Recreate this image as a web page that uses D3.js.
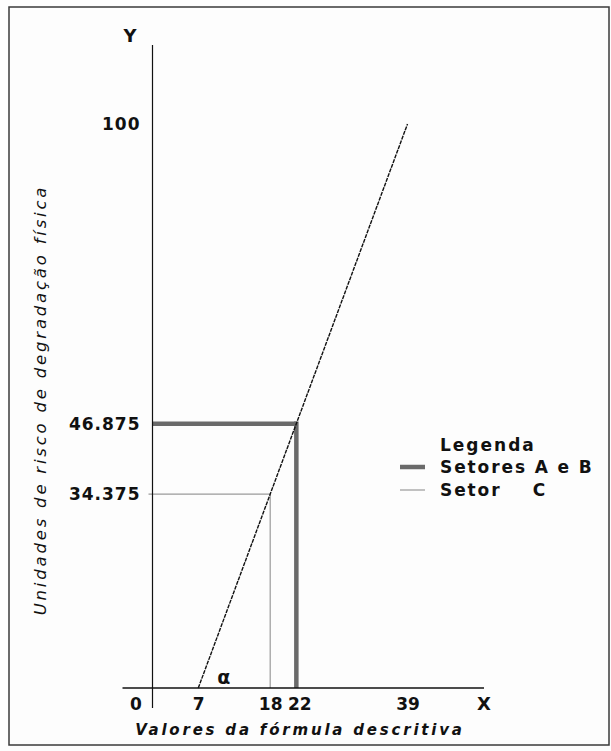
<!DOCTYPE html>
<html>
<head>
<meta charset="utf-8">
<script src="https://cdn.jsdelivr.net/npm/d3@7"></script>
<style>
  html, body { margin: 0; padding: 0; background: #fff; }
  svg { display: block; }
  text { font-family: "DejaVu Sans", sans-serif; fill: #111; }
</style>
</head>
<body>
<svg id="chart" width="611" height="751"></svg>
<script>
// ---- data ----
const xTicks = [0, 7, 18, 22, 39];
const yTicks = [34.375, 46.875, 100];
const lineX = [7, 39];
const lineY = [0, 100];
const sectorNames = ["Setores A e B", "Setor    C"];
const sectorX = [22, 18];
const sectorY = [46.875, 34.375];
const xTitle = "Valores da fórmula descritiva";
const yTitle = "Unidades de risco de degradação física";
const legendTitle = "Legenda";

// ---- layout ----
const svg = d3.select("#chart");
const x = d3.scaleLinear().domain([0, 39]).range([152.5, 407.5]);
const y = d3.scaleLinear().domain([0, 100]).range([688, 124]);

svg.append("rect").attr("x", 0).attr("y", 0).attr("width", 611).attr("height", 751).attr("fill", "#fdfdfd");
svg.append("rect").attr("x", 9).attr("y", 7).attr("width", 600).attr("height", 738)
  .attr("fill", "none").attr("stroke", "#3a3a3a").attr("stroke-width", 1.5);

const sectorStyle = [{ w: 4.5, c: "#6a6a6a" }, { w: 1.2, c: "#9a9a9a" }];

// sector reference lines
sectorNames.forEach((n, i) => {
  const st = sectorStyle[i];
  const g = svg.append("g");
  g.append("line")
    .attr("x1", i === 0 ? x(0) : x(0) - 4).attr("x2", x(sectorX[i]))
    .attr("y1", y(sectorY[i])).attr("y2", y(sectorY[i]))
    .attr("stroke", st.c).attr("stroke-width", st.w);
  g.append("line")
    .attr("x1", x(sectorX[i])).attr("x2", x(sectorX[i]))
    .attr("y1", y(sectorY[i]) - (i === 0 ? st.w / 2 : 0)).attr("y2", y(0))
    .attr("stroke", st.c).attr("stroke-width", st.w);
});

// axis lines
svg.append("line").attr("x1", x(0)).attr("x2", x(0)).attr("y1", 45).attr("y2", y(0) + 20)
  .attr("stroke", "#111").attr("stroke-width", 1.2);
svg.append("line").attr("x1", x(0) - 30).attr("x2", 484).attr("y1", y(0)).attr("y2", y(0))
  .attr("stroke", "#111").attr("stroke-width", 1.6);

// main line
const pts = lineX.map((v, i) => [v, lineY[i]]);
svg.append("path")
  .attr("d", d3.line().x(d => x(d[0])).y(d => y(d[1]))(pts))
  .attr("fill", "none").attr("stroke", "#111").attr("stroke-width", 1.4)
  .attr("stroke-dasharray", "4,1");

// x axis ticks
const xAxis = svg.append("g").attr("transform", `translate(0,${y(0)})`)
  .call(d3.axisBottom(x).tickValues(xTicks).tickSize(0).tickPadding(10).tickFormat(d3.format("d")));
xAxis.select(".domain").remove();
const xShift = { 0: -17, 22: 3 };
xAxis.selectAll(".tick text")
  .attr("font-family", "DejaVu Sans").attr("font-weight", "bold").attr("font-size", 17)
  .attr("fill", "#111")
  .attr("transform", d => `translate(${xShift[d] || 0},0)`);

// y axis ticks
const yAxis = svg.append("g").attr("transform", `translate(${x(0)},0)`)
  .call(d3.axisLeft(y).tickValues(yTicks).tickSize(0).tickPadding(12).tickFormat(d => String(d)));
yAxis.select(".domain").remove();
yAxis.selectAll("text")
  .attr("font-family", "DejaVu Sans").attr("font-weight", "bold").attr("font-size", 17)
  .attr("fill", "#111").attr("letter-spacing", 1);

// axis letters
svg.append("text").attr("x", 130).attr("y", 42).attr("text-anchor", "middle")
  .attr("font-weight", "bold").attr("font-size", 18).text("Y");
svg.append("text").attr("x", 484).attr("y", 710).attr("text-anchor", "middle")
  .attr("font-weight", "bold").attr("font-size", 18).text("X");
svg.append("text").attr("x", x(7) + 19).attr("y", 684)
  .attr("font-weight", "bold").attr("font-size", 19).text("α");

// axis titles
svg.append("text").attr("x", 300).attr("y", 735).attr("text-anchor", "middle")
  .attr("font-style", "italic").attr("font-size", 15).attr("letter-spacing", 2.8)
  .attr("font-weight", "bold").attr("fill", "#222").text(xTitle);
svg.append("text").attr("transform", "translate(46,400) rotate(-90)").attr("text-anchor", "middle")
  .attr("font-style", "italic").attr("font-size", 16.5).attr("letter-spacing", 2.8)
  .attr("fill", "#222").text(yTitle);

// legend
const lg = svg.append("g");
lg.append("text").attr("x", 440).attr("y", 451).attr("font-weight", "bold").attr("font-size", 17)
  .attr("letter-spacing", 2).text(legendTitle);
sectorNames.forEach((n, i) => {
  const yy = 473 + i * 23;
  lg.append("line").attr("x1", 400).attr("x2", 425).attr("y1", yy - 6).attr("y2", yy - 6)
    .attr("stroke", sectorStyle[i].c).attr("stroke-width", sectorStyle[i].w);
  lg.append("text").attr("x", 440).attr("y", yy).attr("font-weight", "bold").attr("font-size", 17)
    .attr("letter-spacing", 1.9).style("white-space", "pre").text(n);
});
</script>
</body>
</html>
